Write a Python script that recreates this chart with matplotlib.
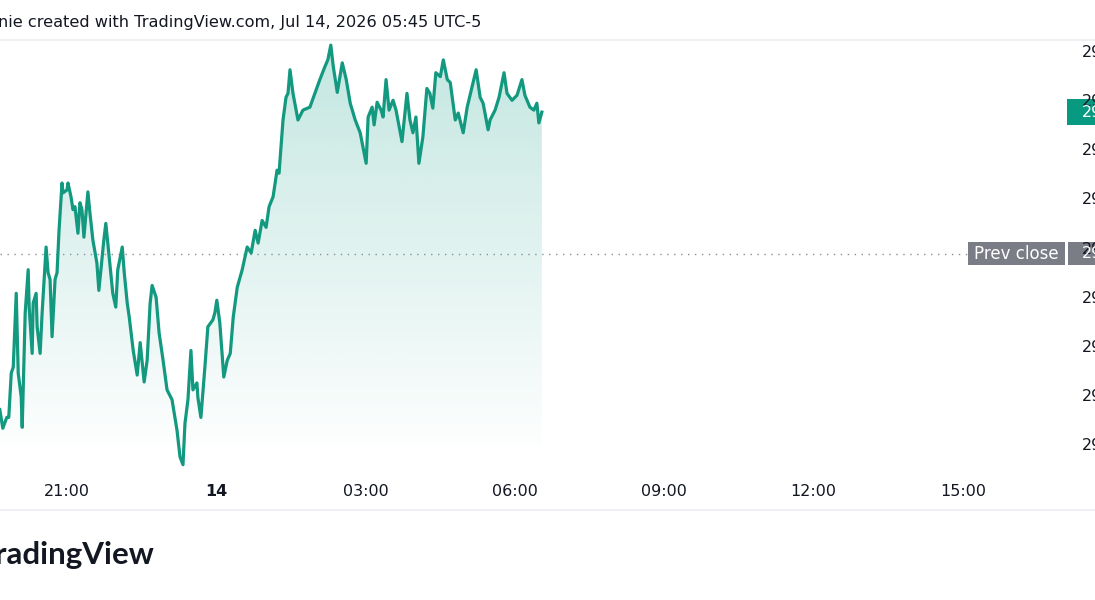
import numpy as np
import matplotlib
matplotlib.use("Agg")
import matplotlib.pyplot as plt
from matplotlib.patches import Rectangle, Polygon
from matplotlib.transforms import blended_transform_factory

# intraday prices, time in hours since Jul 13 00:00
times = [19.65, 19.71, 19.79, 19.83, 19.88, 19.92, 19.98, 20.02, 20.08, 20.10,
         20.16, 20.22, 20.24, 20.30, 20.32, 20.38, 20.40, 20.46, 20.50, 20.58,
         20.62, 20.66, 20.70, 20.76, 20.80, 20.84, 20.90, 20.92, 21.00, 21.02,
         21.08, 21.12, 21.16, 21.22, 21.26, 21.30, 21.34, 21.42, 21.46, 21.52,
         21.60, 21.64, 21.70, 21.74, 21.78, 21.82, 21.88, 21.92, 21.98, 22.02,
         22.11, 22.15, 22.21, 22.25, 22.33, 22.41, 22.47, 22.55, 22.61, 22.67,
         22.71, 22.79, 22.85, 22.93, 23.01, 23.11, 23.21, 23.27, 23.33, 23.37,
         23.43, 23.49, 23.53, 23.61, 23.63, 23.69, 23.77, 23.83, 23.93, 23.97,
         24.01, 24.07, 24.15, 24.22, 24.28, 24.34, 24.42, 24.52, 24.62, 24.70,
         24.78, 24.84, 24.92, 25.00, 25.06, 25.14, 25.22, 25.26, 25.34, 25.40,
         25.44, 25.48, 25.54, 25.64, 25.74, 25.88, 25.98, 26.08, 26.18, 26.24,
         26.30, 26.35, 26.43, 26.53, 26.61, 26.69, 26.79, 26.89, 27.01, 27.05,
         27.13, 27.17, 27.23, 27.31, 27.35, 27.41, 27.47, 27.55, 27.61, 27.73,
         27.83, 27.89, 27.95, 28.01, 28.07, 28.15, 28.23, 28.29, 28.35, 28.41,
         28.50, 28.56, 28.64, 28.70, 28.80, 28.86, 28.96, 29.04, 29.12, 29.22,
         29.30, 29.36, 29.46, 29.50, 29.60, 29.68, 29.78, 29.84, 29.94, 30.04,
         30.14, 30.20, 30.30, 30.38, 30.44, 30.48, 30.54]
prices = [294.37, 294.18, 294.29, 294.29, 294.74, 294.80, 295.55, 294.74, 294.50, 294.19,
          295.35, 295.79, 295.41, 294.94, 295.45, 295.55, 295.21, 294.94, 295.35, 296.02,
          295.76, 295.69, 295.11, 295.69, 295.76, 296.19, 296.67, 296.57, 296.60, 296.67,
          296.53, 296.40, 296.43, 296.16, 296.47, 296.40, 296.12, 296.58, 296.37, 296.09,
          295.86, 295.58, 295.89, 296.09, 296.26, 296.06, 295.76, 295.55, 295.41, 295.79,
          296.02, 295.76, 295.45, 295.31, 294.97, 294.72, 295.05, 294.65, 294.87, 295.45,
          295.63, 295.51, 295.15, 294.87, 294.57, 294.47, 294.16, 293.89, 293.81, 294.23,
          294.47, 294.97, 294.57, 294.64, 294.49, 294.29, 294.80, 295.21, 295.28, 295.35,
          295.48, 295.25, 294.70, 294.87, 294.94, 295.31, 295.61, 295.79, 296.02, 295.96,
          296.19, 296.06, 296.29, 296.22, 296.43, 296.53, 296.80, 296.77, 297.31, 297.54,
          297.58, 297.82, 297.58, 297.31, 297.41, 297.44, 297.58, 297.72, 297.85, 297.92,
          298.07, 297.85, 297.59, 297.89, 297.72, 297.48, 297.31, 297.18, 296.87, 297.34,
          297.44, 297.26, 297.49, 297.41, 297.34, 297.72, 297.41, 297.51, 297.41, 297.09,
          297.58, 297.31, 297.18, 297.34, 296.87, 297.14, 297.63, 297.58, 297.43, 297.79,
          297.75, 297.92, 297.72, 297.69, 297.31, 297.38, 297.18, 297.44, 297.61, 297.82,
          297.54, 297.48, 297.21, 297.31, 297.41, 297.54, 297.79, 297.58, 297.51, 297.56,
          297.72, 297.56, 297.44, 297.41, 297.48, 297.28, 297.39]

prev_close = 295.95
price_ticks = [298.0, 297.5, 297.0, 296.5, 296.0, 295.5, 295.0, 294.5, 294.0]
time_ticks = [21, 24, 27, 30, 33, 36, 39]
time_labels = ["21:00", "14", "03:00", "06:00", "09:00", "12:00", "15:00"]
header = "nie created with TradingView.com, Jul 14, 2026 05:45 UTC-5"

line_col = "#12997f"
grey_box = "#7b7d86"
text_col = "#131722"

W, H = 1095, 600
fig = plt.figure(figsize=(W / 100, H / 100), dpi=100)
fig.patch.set_facecolor("white")

# plot pane (pixel box 0..1065 x 40..472)
ax = fig.add_axes([0, (H - 472) / H, 1065 / W, (472 - 40) / H])
ax.set_xlim(19.654, 41.05)
ax.set_ylim(293.736, 298.122)
ax.axis("off")

t = np.array(times)
p = np.array(prices)
y0, y1 = ax.get_ylim()

# gradient area under the line
poly = Polygon(np.column_stack([np.r_[t, t[-1], t[0]], np.r_[p, y0, y0]]),
               closed=True, fc="none", ec="none")
ax.add_patch(poly)
grad = np.zeros((256, 1, 4))
grad[..., 0] = 8 / 255
grad[..., 1] = 153 / 255
grad[..., 2] = 129 / 255
grad[:, 0, 3] = np.linspace(0.24, 0.01, 256)
im = ax.imshow(grad, extent=[t[0], t[-1], y0 + 0.25, p.max()],
               aspect="auto", origin="upper", zorder=1)
im.set_clip_path(poly)

ax.plot(t, p, color=line_col, lw=2.3, zorder=3, solid_joinstyle="round")
ax.axhline(prev_close, color="#8a8d96", lw=1.0, ls=(0, (1, 4)), zorder=2)

# separators
fig.add_artist(plt.Line2D([0, 1], [1 - 40 / H, 1 - 40 / H], color="#eceef2", lw=1.2))
fig.add_artist(plt.Line2D([0, 1], [1 - 510 / H, 1 - 510 / H], color="#eceef2", lw=1.2))

# header + logo
fig.text(-2 / W, 1 - 22 / H, header, fontsize=11.6, color=text_col,
         family="DejaVu Sans", va="center", ha="left")
fig.text(154 / W, 1 - 555 / H, "TradingView", fontsize=22.5, fontweight="bold",
         color=text_col, family="Lato", va="center", ha="right")

axis_font = ["Liberation Sans Narrow", "DejaVu Sans"]

# time axis labels
bx = blended_transform_factory(ax.transData, fig.transFigure)
for tv, lab in zip(time_ticks, time_labels):
    fig.text(tv, 1 - 491 / H, lab, transform=bx, ha="center", va="center",
             fontsize=11.5, color=text_col, family=axis_font,
             fontweight="bold" if lab == "14" else "normal")

# price axis labels (clipped by the figure edge)
by = blended_transform_factory(fig.transFigure, ax.transData)
for pv in price_ticks:
    fig.text(1082 / W, pv, f"{pv:.2f}", transform=by, ha="left", va="center",
             fontsize=11.5, color=text_col, family=axis_font)


def fig_y(price):
    return fig.transFigure.inverted().transform(ax.transData.transform((t[0], price)))[1]


# prev close tags
yc = fig_y(prev_close)
fig.add_artist(Rectangle((968 / W, yc - 11.5 / H), 97 / W, 23 / H, fc=grey_box,
                         ec="none", transform=fig.transFigure))
fig.add_artist(Rectangle((1068 / W, yc - 11.5 / H), 40 / W, 23 / H, fc=grey_box,
                         ec="none", transform=fig.transFigure))
fig.text(1016 / W, yc, "Prev close", ha="center", va="center", fontsize=12,
         color="white", family="DejaVu Sans")
fig.text(1082 / W, yc, f"{prev_close:.2f}", ha="left", va="center", fontsize=11.5,
         color="white", family=axis_font)

# last price tag
yl = fig_y(prices[-1])
fig.add_artist(Rectangle((1067 / W, yl - 13 / H), 40 / W, 26 / H, fc="#089981",
                         ec="none", transform=fig.transFigure))
fig.text(1082 / W, yl, f"{prices[-1]:.2f}", ha="left", va="center", fontsize=11.5,
         color="white", family=axis_font)

fig.savefig("out.png", dpi=100)
